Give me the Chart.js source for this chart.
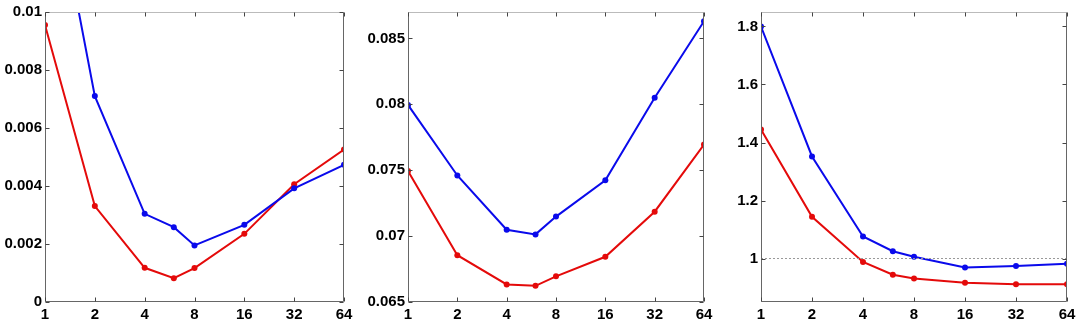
<!DOCTYPE html>
<html>
<head>
<meta charset="utf-8">
<script src="https://cdn.jsdelivr.net/npm/chart.js@4"></script>
<style>
  html, body { margin: 0; padding: 0; background: #fff; }
  #wrap { position: relative; width: 1084px; height: 323px; }
  canvas { position: absolute; top: 0; }
</style>
</head>
<body>
<div id="wrap">
  <canvas id="chart1" width="360" height="323" style="left:0px"></canvas>
  <canvas id="chart2" width="360" height="323" style="left:360px"></canvas>
  <canvas id="chart3" width="364" height="323" style="left:720px"></canvas>
</div>
<script>
// x positions (log2 axis) and tick labels
const xValues = [1, 2, 4, 6, 8, 16, 32, 64];
const xTicks = [1, 2, 4, 8, 16, 32, 64];

// panel 1
const blue1 = [0.0161, 0.0071, 0.00304, 0.00258, 0.00195, 0.00266, 0.00392, 0.00473];
const red1 = [0.00955, 0.00331, 0.00118, 0.00082, 0.00117, 0.00235, 0.00406, 0.00526];
const yTicks1 = [0, 0.002, 0.004, 0.006, 0.008, 0.01];

// panel 2
const blue2 = [0.07995, 0.0746, 0.07048, 0.07013, 0.07148, 0.07423, 0.0805, 0.0863];
const red2 = [0.07493, 0.06855, 0.06633, 0.06623, 0.06695, 0.06843, 0.07185, 0.07695];
const yTicks2 = [0.065, 0.07, 0.075, 0.08, 0.085];

// panel 3
const blue3 = [1.8, 1.352, 1.076, 1.025, 1.006, 0.969, 0.974, 0.982];
const red3 = [1.445, 1.144, 0.988, 0.944, 0.931, 0.916, 0.911, 0.911];
const yTicks3 = [1, 1.2, 1.4, 1.6, 1.8];
const refX = [1, 64];
const refY = [1, 1];

const BLUE = "rgb(10,10,235)";
const RED = "rgb(228,10,10)";

Chart.defaults.font.family = "'Liberation Sans', Arial, sans-serif";
Chart.defaults.font.size = 15;
Chart.defaults.font.weight = "bold";
Chart.defaults.color = "#000";

function pts(xs, ys) {
  return xs.map((x, i) => ({ x: x, y: ys[i] }));
}

function series(ys, color) {
  return {
    data: pts(xValues, ys),
    borderColor: color,
    backgroundColor: color,
    borderWidth: 2,
    pointRadius: 3,
    pointHoverRadius: 3,
    pointBorderWidth: 0,
    tension: 0,
  };
}

// box around the plot, with small inward ticks on all four sides
const framePlugin = {
  id: "frame",
  afterDatasetsDraw(chart) {
    const { ctx, chartArea: a, scales } = chart;
    const L = Math.round(a.left) + 0.5, R = Math.round(a.right) - 0.5;
    const T = Math.round(a.top) + 0.5, B = Math.round(a.bottom) - 0.5;
    ctx.save();
    ctx.lineWidth = 1;
    ctx.strokeStyle = "#bbb";
    ctx.beginPath(); ctx.moveTo(L, T); ctx.lineTo(R, T); ctx.stroke();
    ctx.strokeStyle = "#666";
    ctx.beginPath();
    ctx.moveTo(L, T); ctx.lineTo(L, B); ctx.lineTo(R, B); ctx.lineTo(R, T);
    ctx.stroke();
    ctx.strokeStyle = "#444";
    ctx.beginPath();
    scales.x.ticks.forEach(t => {
      const px = Math.round(scales.x.getPixelForValue(t.value)) + 0.5;
      ctx.moveTo(px, B); ctx.lineTo(px, B - 4);
      ctx.moveTo(px, T); ctx.lineTo(px, T + 4);
    });
    scales.y.ticks.forEach(t => {
      const py = Math.round(scales.y.getPixelForValue(t.value)) + 0.5;
      ctx.moveTo(L, py); ctx.lineTo(L + 4, py);
      ctx.moveTo(R, py); ctx.lineTo(R - 4, py);
    });
    ctx.stroke();
    ctx.restore();
  },
};

function makeChart(id, datasets, yMin, yMax, yTicks, yWidth, padRight) {
  return new Chart(document.getElementById(id), {
    type: "line",
    data: { datasets: datasets },
    options: {
      responsive: false,
      animation: false,
      devicePixelRatio: 1,
      layout: { padding: { left: 0, top: 10, right: padRight, bottom: 0 } },
      plugins: { legend: { display: false }, tooltip: { enabled: false } },
      scales: {
        x: {
          type: "logarithmic",
          min: 1,
          max: 64,
          afterBuildTicks: s => { s.ticks = xTicks.map(v => ({ value: v })); },
          afterFit: s => { s.height = 21; },
          grid: { display: false, drawTicks: false },
          border: { display: false },
          ticks: { autoSkip: false, maxRotation: 0, padding: 4, callback: v => String(v) },
        },
        y: {
          type: "linear",
          min: yMin,
          max: yMax,
          afterBuildTicks: s => { s.ticks = yTicks.map(v => ({ value: v })); },
          afterFit: s => { s.width = yWidth; },
          grid: { display: false, drawTicks: false },
          border: { display: false },
          ticks: { padding: 3, callback: v => String(v) },
        },
      },
    },
    plugins: [framePlugin],
  });
}

makeChart("chart1", [series(blue1, BLUE), series(red1, RED)], 0, 0.01, yTicks1, 45, 16);
makeChart("chart2", [series(blue2, BLUE), series(red2, RED)], 0.065, 0.087, yTicks2, 48, 16);
makeChart("chart3", [
  {
    data: pts(refX, refY),
    borderColor: "#999",
    borderWidth: 1,
    borderDash: [2, 2],
    pointRadius: 0,
  },
  series(blue3, BLUE),
  series(red3, RED),
], 0.85, 1.85, yTicks3, 41, 17);
</script>
</body>
</html>
